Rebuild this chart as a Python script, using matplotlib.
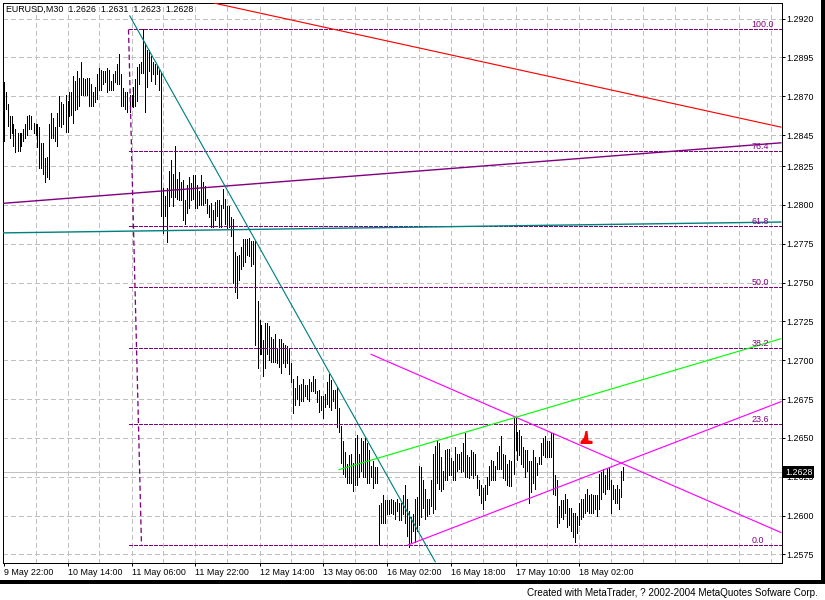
#!/usr/bin/env python3
# EURUSD M30 chart with fibonacci levels and hand drawn trend lines
import matplotlib
matplotlib.use('Agg')
import matplotlib.pyplot as plt
from matplotlib.patches import Rectangle
import numpy as np

plt.rcParams['font.family'] = ['Liberation Sans', 'DejaVu Sans']

# bar highs and lows in 1/10000 of a price unit, one value per 30 minute bar
highs_pts = [
    12879, 12873, 12865, 12857, 12857, 12852, 12849, 12846, 12846, 12846,
    12849, 12852, 12857, 12858, 12857, 12853, 12852, 12852, 12850, 12840,
    12840, 12830, 12831, 12852, 12859, 12856, 12850, 12859, 12870, 12866,
    12865, 12871, 12867, 12873, 12873, 12883, 12880, 12886, 12882, 12892,
    12882, 12881, 12882, 12882, 12878, 12873, 12876, 12884, 12888, 12887,
    12886, 12886, 12888, 12887, 12880, 12884, 12886, 12891, 12897, 12884,
    12875, 12873, 12873, 12871, 12871, 12876, 12881, 12889, 12891, 12892,
    12913, 12904, 12900, 12900, 12896, 12892, 12891, 12890, 12887, 12885,
    12811, 12806, 12811, 12822, 12829, 12820, 12838, 12817, 12821, 12815,
    12816, 12803, 12813, 12818, 12814, 12819, 12819, 12813, 12809, 12819,
    12815, 12812, 12804, 12800, 12801, 12797, 12802, 12803, 12803, 12800,
    12810, 12804, 12799, 12799, 12792, 12791, 12770, 12767, 12768, 12773,
    12778, 12778, 12778, 12779, 12777, 12777, 12777, 12738, 12726, 12723,
    12713, 12724, 12724, 12722, 12715, 12714, 12717, 12708, 12714, 12714,
    12711, 12710, 12709, 12707, 12698, 12688, 12682, 12690, 12684, 12685,
    12688, 12684, 12684, 12688, 12686, 12690, 12688, 12680, 12681, 12677,
    12677, 12678, 12686, 12691, 12687, 12681, 12681, 12683, 12669, 12658,
    12648, 12641, 12633, 12639, 12640, 12634, 12650, 12652, 12640, 12650,
    12648, 12650, 12647, 12642, 12632, 12635, 12631, 12631, 12607, 12608,
    12613, 12610, 12610, 12610, 12611, 12610, 12609, 12611, 12608, 12608,
    12613, 12620, 12611, 12603, 12599, 12601, 12611, 12612, 12632, 12631,
    12623, 12617, 12611, 12611, 12623, 12640, 12645, 12649, 12647, 12638,
    12629, 12642, 12643, 12643, 12637, 12635, 12644, 12640, 12640, 12641,
    12647, 12653, 12639, 12638, 12642, 12641, 12640, 12626, 12623, 12620,
    12618, 12620, 12625, 12632, 12636, 12635, 12632, 12641, 12645, 12651,
    12640, 12639, 12633, 12636, 12635, 12663, 12663, 12654, 12655, 12651,
    12644, 12642, 12642, 12635, 12635, 12642, 12638, 12634, 12638, 12647,
    12650, 12651, 12648, 12648, 12653, 12653, 12626, 12623, 12606, 12610,
    12610, 12614, 12611, 12605, 12605, 12602, 12602, 12600, 12608, 12611,
    12611, 12614, 12617, 12613, 12614, 12613, 12613, 12613, 12627, 12628,
    12630, 12626, 12630, 12631, 12623, 12620, 12617, 12620, 12617, 12629,
    12631,
]
lows_pts = [
    12841, 12862, 12851, 12843, 12846, 12838, 12834, 12835, 12835, 12838,
    12841, 12843, 12845, 12849, 12849, 12846, 12845, 12837, 12824, 12824,
    12820, 12815, 12818, 12817, 12843, 12843, 12841, 12838, 12851, 12850,
    12852, 12847, 12847, 12857, 12858, 12853, 12861, 12862, 12864, 12871,
    12871, 12871, 12871, 12864, 12864, 12864, 12866, 12868, 12874, 12874,
    12878, 12879, 12873, 12874, 12874, 12874, 12879, 12878, 12878, 12864,
    12864, 12862, 12860, 12860, 12864, 12863, 12864, 12867, 12878, 12885,
    12885, 12860, 12876, 12886, 12880, 12884, 12878, 12884, 12874, 12793,
    12782, 12793, 12776, 12799, 12805, 12799, 12805, 12804, 12803, 12803,
    12790, 12788, 12795, 12798, 12803, 12804, 12798, 12798, 12800, 12800,
    12800, 12801, 12795, 12792, 12786, 12786, 12790, 12793, 12786, 12786,
    12798, 12788, 12785, 12786, 12780, 12750, 12744, 12740, 12752, 12759,
    12761, 12763, 12768, 12767, 12761, 12762, 12710, 12695, 12704, 12704,
    12690, 12695, 12704, 12700, 12699, 12699, 12699, 12698, 12696, 12692,
    12698, 12696, 12698, 12691, 12686, 12666, 12671, 12675, 12671, 12674,
    12674, 12677, 12675, 12674, 12680, 12680, 12679, 12673, 12667, 12668,
    12663, 12670, 12672, 12670, 12668, 12674, 12669, 12657, 12654, 12634,
    12627, 12625, 12621, 12621, 12621, 12616, 12620, 12620, 12625, 12629,
    12625, 12625, 12621, 12621, 12625, 12618, 12621, 12621, 12582, 12595,
    12595, 12595, 12601, 12601, 12602, 12601, 12598, 12603, 12597, 12597,
    12601, 12595, 12587, 12580, 12583, 12590, 12583, 12590, 12594, 12599,
    12605, 12598, 12600, 12601, 12606, 12602, 12604, 12621, 12617, 12616,
    12617, 12623, 12623, 12626, 12626, 12623, 12623, 12629, 12630, 12628,
    12629, 12625, 12625, 12624, 12626, 12624, 12626, 12618, 12613, 12608,
    12604, 12610, 12614, 12620, 12623, 12623, 12623, 12630, 12630, 12630,
    12624, 12623, 12620, 12619, 12619, 12627, 12642, 12636, 12639, 12633,
    12631, 12625, 12629, 12608, 12615, 12621, 12617, 12626, 12633, 12633,
    12639, 12638, 12638, 12638, 12638, 12614, 12613, 12593, 12595, 12599,
    12598, 12602, 12593, 12594, 12590, 12586, 12583, 12589, 12594, 12598,
    12599, 12602, 12603, 12602, 12602, 12602, 12604, 12600, 12604, 12611,
    12615, 12614, 12617, 12617, 12602, 12611, 12608, 12608, 12604, 12612,
    12623,
]

price_ticks = [1.2920, 1.2895, 1.2870, 1.2845, 1.2825, 1.2800, 1.2775, 1.2750,
               1.2725, 1.2700, 1.2675, 1.2650, 1.2625, 1.2600, 1.2575]
time_tick_bars = [0, 32, 64, 96, 128, 160, 192, 224, 256, 288]
time_labels = ['9 May 22:00', '10 May 14:00', '11 May 06:00', '11 May 22:00',
               '12 May 14:00', '13 May 06:00', '16 May 02:00', '16 May 18:00',
               '17 May 10:00', '18 May 02:00']

last_price = 1.2628
fib_names = ['100.0', '76.4', '61.8', '50.0', '38.2', '23.6', '0.0']
fib_levels = [1.2913, 1.28346, 1.27862, 1.2747, 1.27078, 1.26593, 1.2581]
fib_start_bar = 62.5
fib_label_bar = 374

# trend lines, (bar, bar), (price, price)
red_bars, red_prices = (105, 389), (1.2930, 1.2850)
purple_bars, purple_prices = (-0.5, 389), (1.2801, 1.2840)
teal_flat_bars, teal_flat_prices = (-0.5, 389), (1.2782, 1.2789)
teal_steep_bars, teal_steep_prices = (63, 216), (1.2922, 1.2570)
fib_axis_bars, fib_axis_prices = (62.5, 69), (1.2913, 1.2581)
upper_bars, upper_prices = (183.5, 389), (1.2704, 1.2589)
lower_bars, lower_prices = (202, 389), (1.2581, 1.26735)
green_bars, green_prices = (167.5, 389), (1.26295, 1.2714)
arrow_bar, arrow_price = 291.5, 1.26506

PX = 72 / 100  # one pixel in points at dpi 100
W, H = 825, 600
LABEL_SIZE = 6.4


def draw_line(ax, xs, ys, color, width=1.15, style='-', smooth=True):
    ax.plot(xs, ys, color=color, lw=width * PX, ls=style, antialiased=smooth,
            solid_capstyle='butt', dash_capstyle='butt', zorder=4)


fig = plt.figure(figsize=(W / 100, H / 100), dpi=100)
ax = fig.add_axes([2.5 / W, 1 - 562.5 / H, 779 / W, 560 / H])

highs = np.array(highs_pts) / 10000
lows = np.array(lows_pts) / 10000
bars = np.arange(len(highs))

ax.set_xlim(-0.5, 389)
ax.set_ylim(1.2920 - 544 / 15536, 1.2920 + 16 / 15536)

# grid goes under everything
for b in range(16, 389, 16):
    ax.axvline(b, color='#c0c0c0', lw=PX, ls=(0, (5, 3)), antialiased=False,
               dash_capstyle='butt', zorder=1)
for p in price_ticks:
    ax.axhline(p, color='#c0c0c0', lw=PX, ls=(0, (5, 3)), antialiased=False,
               dash_capstyle='butt', zorder=1)
ax.axhline(last_price, color='#c0c0c0', lw=PX, antialiased=False, zorder=1)

ax.vlines(bars, lows, highs, colors='black', linewidth=PX, antialiased=False, zorder=3)

for level in fib_levels:
    draw_line(ax, (fib_start_bar, 389), (level, level), '#800080', 1.0, (0, (4, 2)), smooth=False)
draw_line(ax, fib_axis_bars, fib_axis_prices, '#800080', 1.3, (0, (4, 2.5)))
for name, level in zip(fib_names, fib_levels):
    ax.annotate(name, (fib_label_bar, level), xytext=(0, 2 * PX),
                textcoords='offset points', color='#800080', fontsize=LABEL_SIZE,
                ha='left', va='baseline', zorder=6)

draw_line(ax, red_bars, red_prices, '#ff0000')
draw_line(ax, purple_bars, purple_prices, '#800080', 1.4)
draw_line(ax, teal_flat_bars, teal_flat_prices, '#008080', 1.4)
draw_line(ax, teal_steep_bars, teal_steep_prices, '#008080')
draw_line(ax, upper_bars, upper_prices, '#ff00ff')
draw_line(ax, lower_bars, lower_prices, '#ff00ff')
draw_line(ax, green_bars, green_prices, '#00ff00')

# the little red arrow object near 18 May
arrow_verts = [(-6, -6.5), (6, -6.5), (6, -3.5), (2, -3), (1, 6.5), (-1, 6.5),
               (-2.5, 0), (-6, -4), (-6, -6.5)]
ax.plot([arrow_bar], [arrow_price], marker=arrow_verts, ms=13 * PX, color='#ff0000',
        mew=0, ls='none', zorder=5)

ax.set_yticks(price_ticks)
ax.set_yticklabels(['%.4f' % p for p in price_ticks])
ax.yaxis.tick_right()
ax.tick_params(axis='y', length=3 * PX, width=PX, pad=1, labelsize=LABEL_SIZE)
ax.set_xticks(time_tick_bars)
ax.set_xticklabels(time_labels, ha='left')
ax.tick_params(axis='x', length=3 * PX, width=PX, pad=1.5, labelsize=LABEL_SIZE)
for s in ax.spines.values():
    s.set_linewidth(PX)

# current price tag on the axis, it hides the top of the 1.2625 label like in MetaTrader
ax.text(1.0045, last_price, '%.4f' % last_price, transform=ax.get_yaxis_transform(),
        color='white', fontsize=LABEL_SIZE, va='center', ha='left', clip_on=False, zorder=10,
        bbox=dict(boxstyle='square,pad=0.18', fc='black', ec='black', lw=0))

ax.text(4 / 779, 1 - 7 / 560, 'EURUSD,M30  1.2626  1.2631  1.2623  1.2628', transform=ax.transAxes,
        fontsize=LABEL_SIZE, va='center', ha='left', color='black', zorder=7)

# black window frame and the MetaTrader credit
fig.add_artist(Rectangle((821 / W, 1 - 584 / H), 4 / W, 584 / H, transform=fig.transFigure,
                         fc='black', ec='none'))
fig.add_artist(Rectangle((0, 1 - 584 / H), 1, 4 / H, transform=fig.transFigure,
                         fc='black', ec='none'))
fig.text(818 / W, 1 - 592.5 / H, 'Created with MetaTrader, ? 2002-2004 MetaQuotes Sofware Corp.',
         fontsize=7.1, ha='right', va='center', color='black')

fig.savefig('out.png', dpi=100)
